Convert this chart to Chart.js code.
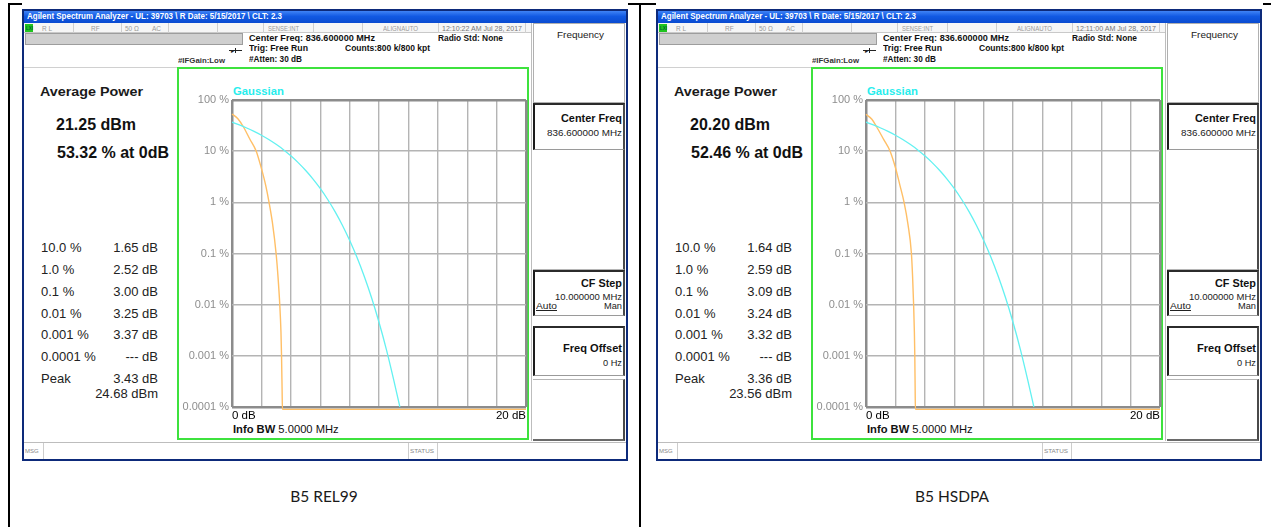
<!DOCTYPE html>
<html>
<head>
<meta charset="utf-8">
<title>CCDF - B5 REL99 / B5 HSDPA</title>
<script src="https://cdn.jsdelivr.net/npm/chart.js@4.4.1/dist/chart.umd.min.js"></script>
<style>
  html, body { margin: 0; padding: 0; background: #fff; }
  #page { position: relative; width: 1271px; height: 527px; overflow: hidden; background: #fff; }
</style>
</head>
<body>
<div id="page"></div>
<script>
const SANS = '"Liberation Sans", Arial, Helvetica, sans-serif';

// ---- CCDF axes ----
const yTickValues = [100, 10, 1, 0.1, 0.01, 0.001, 0.0001];
const yTickLabels = ['100 %', '10 %', '1 %', '0.1 %', '0.01 %', '0.001 %', '0.0001 %'];
const xTickValues = [0, 2, 4, 6, 8, 10, 12, 14, 16, 18, 20];
const xTickLabels = ['0 dB', '', '', '', '', '', '', '', '', '', '20 dB'];

// ---- Gaussian reference trace (dB above average power, % of samples) ----
const gaussianDb  = [0, 0.5, 1, 1.5, 2, 2.5, 3, 3.5, 4, 4.5, 5, 5.5, 6, 6.5, 7, 7.5, 8, 8.5, 9, 9.5, 10, 10.5, 11, 11.42];
const gaussianPct = [36.8, 32.6, 28.4, 24.3, 20.5, 16.9, 13.6, 10.7, 8.11, 5.97, 4.23, 2.88, 1.87, 1.15, 0.666, 0.361, 0.181, 0.0843, 0.0355, 0.0135, 0.00454, 0.00134, 0.00034, 0.0001];

// ---- Measured CCDF traces (the trace rests just under the 0.0001 % line past the peak) ----
const rel99Db  = [0, 0.4, 0.77, 1.2, 1.65, 2.0, 2.3, 2.52, 2.75, 3.0, 3.13, 3.25, 3.33, 3.37, 3.41, 3.43, 20];
const rel99Pct = [53.32, 43, 30, 17.5, 10, 4.6, 2.1, 1.0, 0.4, 0.1, 0.035, 0.01, 0.003, 0.001, 0.0002, 0.00009, 0.00009];
const hsdpaDb  = [0, 0.4, 0.72, 1.2, 1.64, 2.0, 2.3, 2.59, 2.85, 3.09, 3.17, 3.24, 3.29, 3.32, 3.345, 3.36, 20];
const hsdpaPct = [52.46, 42, 30, 17, 10, 4.8, 2.2, 1.0, 0.38, 0.1, 0.035, 0.01, 0.003, 0.001, 0.0002, 0.00009, 0.00009];

// ---- Measurement readouts ----
const ccdfLevels   = ['10.0 %', '1.0 %', '0.1 %', '0.01 %', '0.001 %', '0.0001 %'];
const rel99Readout = ['1.65 dB', '2.52 dB', '3.00 dB', '3.25 dB', '3.37 dB', '--- dB'];
const hsdpaReadout = ['1.64 dB', '2.59 dB', '3.09 dB', '3.24 dB', '3.32 dB', '--- dB'];
const rel99Summary = ['21.25 dBm', '53.32 % at 0dB', '3.43 dB', '24.68 dBm'];
const hsdpaSummary = ['20.20 dBm', '52.46 % at 0dB', '3.36 dB', '23.56 dBm'];
const clockText    = ['12:10:22 AM Jul 28, 2017', '12:11:00 AM Jul 28, 2017'];
const captions     = ['B5 REL99', 'B5 HSDPA'];

const page = document.getElementById('page');

function box(x, y, w, h, css) {
  const d = document.createElement('div');
  d.style.cssText = `position:absolute;left:${x}px;top:${y}px;width:${w}px;height:${h}px;box-sizing:border-box;${css || ''}`;
  page.appendChild(d);
  return d;
}

// Places a single line of text; x is the left, right or centre anchor, yc the vertical centre.
function text(str, x, yc, o) {
  o = o || {};
  const size = o.size || 12;
  const lh = Math.ceil(size * 1.25);
  const d = document.createElement('div');
  if (o.html) d.innerHTML = str; else d.textContent = str;
  d.style.cssText = `position:absolute;top:${yc - lh / 2}px;height:${lh}px;line-height:${lh}px;white-space:nowrap;` +
    `font-family:${o.family || SANS};font-size:${size}px;font-weight:${o.weight || 'normal'};color:${o.color || '#000'};` +
    (o.extra || '');
  page.appendChild(d);
  const w = d.getBoundingClientRect().width;
  const scale = o.fit ? o.fit / w : 1;
  const ew = w * scale;
  const align = o.align || 'left';
  d.style.left = (align === 'left' ? x : align === 'right' ? x - ew : x - ew / 2) + 'px';
  if (scale !== 1) {
    d.style.transformOrigin = '0 50%';
    d.style.transform = `scaleX(${scale})`;
  }
  return d;
}

function ccdfChart(dx, db, pct) {
  const c = document.createElement('canvas');
  c.width = 349; c.height = 370;
  c.style.cssText = `position:absolute;left:${179 + dx}px;top:69px;width:349px;height:370px;`;
  page.appendChild(c);
  const edgeX = v => v === xTickValues[0] || v === xTickValues[xTickValues.length - 1];
  const edgeY = v => v === yTickValues[0] || v === yTickValues[yTickValues.length - 1];
  new Chart(c, {
    type: 'line',
    data: {
      datasets: [
        {
          label: 'Gaussian',
          data: gaussianDb.map((x, i) => ({ x, y: gaussianPct[i] })),
          borderColor: '#63f1f1', borderWidth: 1.3, pointRadius: 0,
          cubicInterpolationMode: 'monotone', fill: false
        },
        {
          label: 'CCDF',
          data: db.map((x, i) => ({ x, y: pct[i] })),
          borderColor: '#ffbf66', borderWidth: 1.4, pointRadius: 0,
          cubicInterpolationMode: 'monotone', fill: false, clip: 4
        }
      ]
    },
    options: {
      responsive: false, animation: false, devicePixelRatio: 1,
      layout: { padding: { top: 31, right: 1, left: 0, bottom: 0 } },
      plugins: { legend: { display: false }, tooltip: { enabled: false }, title: { display: false } },
      scales: {
        x: {
          type: 'linear', min: 0, max: 20,
          afterBuildTicks: s => { s.ticks = xTickValues.map(v => ({ value: v })); },
          afterFit: s => { s.height = 32; },
          ticks: {
            autoSkip: false, maxRotation: 0, align: 'inner', padding: 2, color: '#000',
            font: { family: SANS, size: 11.5 },
            callback: (v, i) => xTickLabels[i]
          },
          grid: {
            drawTicks: false,
            color: ctx => edgeX(ctx.tick && ctx.tick.value) ? '#8c8c8c' : '#b4b4b4',
            lineWidth: ctx => edgeX(ctx.tick && ctx.tick.value) ? 2.5 : 1.4
          },
          border: { display: false }
        },
        y: {
          type: 'logarithmic', min: 0.0001, max: 100,
          afterBuildTicks: s => { s.ticks = yTickValues.map(v => ({ value: v })); },
          afterFit: s => { s.width = 53; },
          ticks: {
            autoSkip: false, padding: 3, color: '#8e8e8e',
            font: { family: SANS, size: 11 },
            callback: (v, i) => yTickLabels[i]
          },
          grid: {
            drawTicks: false,
            color: ctx => edgeY(ctx.tick && ctx.tick.value) ? '#8c8c8c' : '#b4b4b4',
            lineWidth: ctx => edgeY(ctx.tick && ctx.tick.value) ? 2.5 : 1.4
          },
          border: { display: false }
        }
      }
    }
  });
}

function analyzer(k, dx, db, pct, readout, summary) {
  const X = v => v + dx;
  const hdr = '#111';

  // window frame and title bar
  box(X(22), 9, 606, 452, 'background:#fff;border:2px solid #0d2a7a;');
  box(X(24), 11, 602, 12, 'background:linear-gradient(#3f83f6,#1159e3 45%,#0a4bd0);');
  text('Agilent Spectrum Analyzer - UL: 39703 \\ R Date: 5/15/2017 \\ CLT: 2.3', X(27), 16.5,
       { size: 8.5, weight: 'bold', color: '#fff', fit: 255 });

  // instrument status row
  box(X(24), 23, 508, 10, 'background:#f6f6f6;border-bottom:1px solid #c9c9c9;');
  box(X(25), 24, 8, 8, 'background:#1fc41f;');
  text('LXI', X(25.5), 28, { size: 5, weight: 'bold', color: '#063', fit: 7 });
  [73, 121, 168, 217, 263, 313, 362, 438, 525].forEach(x => box(X(x), 23, 1, 10, 'background:#cfcfcf;'));
  const gray = '#9a9a9a';
  text('R L', X(42), 28, { size: 6.5, color: gray });
  text('RF', X(91), 28, { size: 6.5, color: gray });
  text('50 \u03A9', X(125), 28, { size: 6.5, color: gray });
  text('AC', X(152), 28, { size: 6.5, color: gray });
  text('SENSE:INT', X(268), 28, { size: 6.5, color: gray, fit: 31 });
  text('ALIGNAUTO', X(383), 28, { size: 6.5, color: gray, fit: 35 });
  text(clockText[k], X(442), 28, { size: 7, color: '#777', fit: 80 });

  // sweep progress bar and trigger settings
  box(X(25), 33, 218, 12, 'background:#cfcfcf;border:1px solid #9d9d9d;');
  text('Center Freq: 836.600000 MHz', X(249), 38.5, { size: 8.5, weight: 'bold', color: hdr, fit: 126 });
  text('Trig: Free Run', X(249), 48.5, { size: 8.5, weight: 'bold', color: hdr, fit: 59 });
  text('#Atten: 30 dB', X(249), 59.5, { size: 8.5, weight: 'bold', color: hdr, fit: 53 });
  text('Counts:800 k/800 kpt', X(345), 48.5, { size: 8.5, weight: 'bold', color: hdr, fit: 85 });
  text('Radio Std: None', X(438), 38.5, { size: 8.5, weight: 'bold', color: hdr, fit: 65 });
  text('#IFGain:Low', X(178), 60.5, { size: 7.5, weight: 'bold', color: '#333', fit: 47 });
  box(X(229), 50, 13, 1, 'background:#222;');
  box(X(235), 48, 1, 5, 'background:#222;');
  text('\u25B8', X(231), 50.5, { size: 6, color: '#222' });

  // readout panel
  box(X(24), 67, 153, 374, 'background:#fff;border-top:1px solid #d0d0d0;');
  text('Average Power', X(40), 91, { size: 13.5, weight: 'bold', color: '#1a1a1a', fit: 103 });
  text(summary[0], X(56), 125, { size: 16, weight: 'bold', color: '#111' });
  text(summary[1], X(57), 153, { size: 16, weight: 'bold', color: '#111' });
  const rowY = [247, 269, 291, 313, 334, 356];
  ccdfLevels.forEach((lv, i) => {
    text(lv, X(41), rowY[i], { size: 13, color: '#222' });
    text(readout[i], X(158), rowY[i], { size: 13, color: '#222', align: 'right' });
  });
  text('Peak', X(41), 378, { size: 13, color: '#222' });
  text(summary[2], X(158), 378, { size: 13, color: '#222', align: 'right' });
  text(summary[3], X(158), 393, { size: 13, color: '#222', align: 'right' });

  // trace window
  box(X(177), 67, 352, 373, 'border:2px solid #3de23d;background:#fff;');
  text('Gaussian', X(233), 91, { size: 11.3, weight: 'bold', color: '#27eded' });
  text('<b>Info BW</b> 5.0000 MHz', X(233), 428.5, { size: 11.2, color: '#111', html: true });
  ccdfChart(dx, db, pct);

  // softkey column
  box(X(531), 23, 95, 418, 'background:#fff;border-left:1px solid #bdbdbd;');
  box(X(533), 23, 92, 80, 'border:1px solid #b0b0b0;background:#fff;');
  text('Frequency', X(580), 35, { size: 9.5, color: '#222', align: 'center', fit: 47 });
  const key = 'background:#fff;border-left:2px solid #1b1b1b;border-top:2px solid #2b2b2b;border-right:2px solid #4a4a4a;border-bottom:1px solid #9a9a9a;';
  box(X(533), 103, 92, 47, key);
  text('Center Freq', X(622), 118, { size: 11, weight: 'bold', color: '#111', align: 'right', fit: 61 });
  text('836.600000 MHz', X(622), 133, { size: 9, color: '#222', align: 'right', fit: 75 });
  box(X(533), 150, 92, 120, 'background:#fff;border-right:2px solid #4a4a4a;border-bottom:1px solid #b5b5b5;');
  box(X(533), 270, 92, 46, key);
  text('CF Step', X(622), 283, { size: 11, weight: 'bold', color: '#111', align: 'right', fit: 41 });
  text('10.000000 MHz', X(622), 297, { size: 9, color: '#222', align: 'right', fit: 67 });
  text('Auto', X(536), 306, { size: 9, color: '#222', extra: 'text-decoration:underline;', fit: 21 });
  text('Man', X(622), 306, { size: 9, color: '#222', align: 'right', fit: 18 });
  box(X(533), 326, 92, 50, key);
  text('Freq Offset', X(622), 348, { size: 11, weight: 'bold', color: '#111', align: 'right', fit: 59 });
  text('0 Hz', X(622), 363, { size: 9, color: '#222', align: 'right', fit: 19 });
  box(X(533), 379, 92, 62, 'background:#fff;border-right:2px solid #4a4a4a;border-bottom:2px solid #6a6a6a;border-top:1px solid #b5b5b5;');

  // message / status bar
  box(X(24), 442, 602, 17, 'background:#fff;border-top:1px solid #bdbdbd;');
  [43, 408, 437].forEach(x => box(X(x), 443, 1, 16, 'background:#cdcdcd;'));
  text('MSG', X(25), 450.5, { size: 6, color: '#888' });
  text('STATUS', X(410), 450.5, { size: 6, color: '#888', fit: 24 });
}

// table rules
box(8, 3, 14, 2, 'background:#000;');
box(8, 3, 2, 524, 'background:#000;');
box(628, 3, 28, 2, 'background:#000;');
box(639, 3, 2, 524, 'background:#000;');
box(1263, 3, 8, 2, 'background:#000;');

analyzer(0, 0, rel99Db, rel99Pct, rel99Readout, rel99Summary);
analyzer(1, 634, hsdpaDb, hsdpaPct, hsdpaReadout, hsdpaSummary);

text(captions[0], 324, 496, { size: 15.5, family: 'Lato, "Open Sans", sans-serif', color: '#1a1a1a', align: 'center' });
text(captions[1], 952, 496, { size: 15.5, family: 'Lato, "Open Sans", sans-serif', color: '#1a1a1a', align: 'center' });
</script>
</body>
</html>
